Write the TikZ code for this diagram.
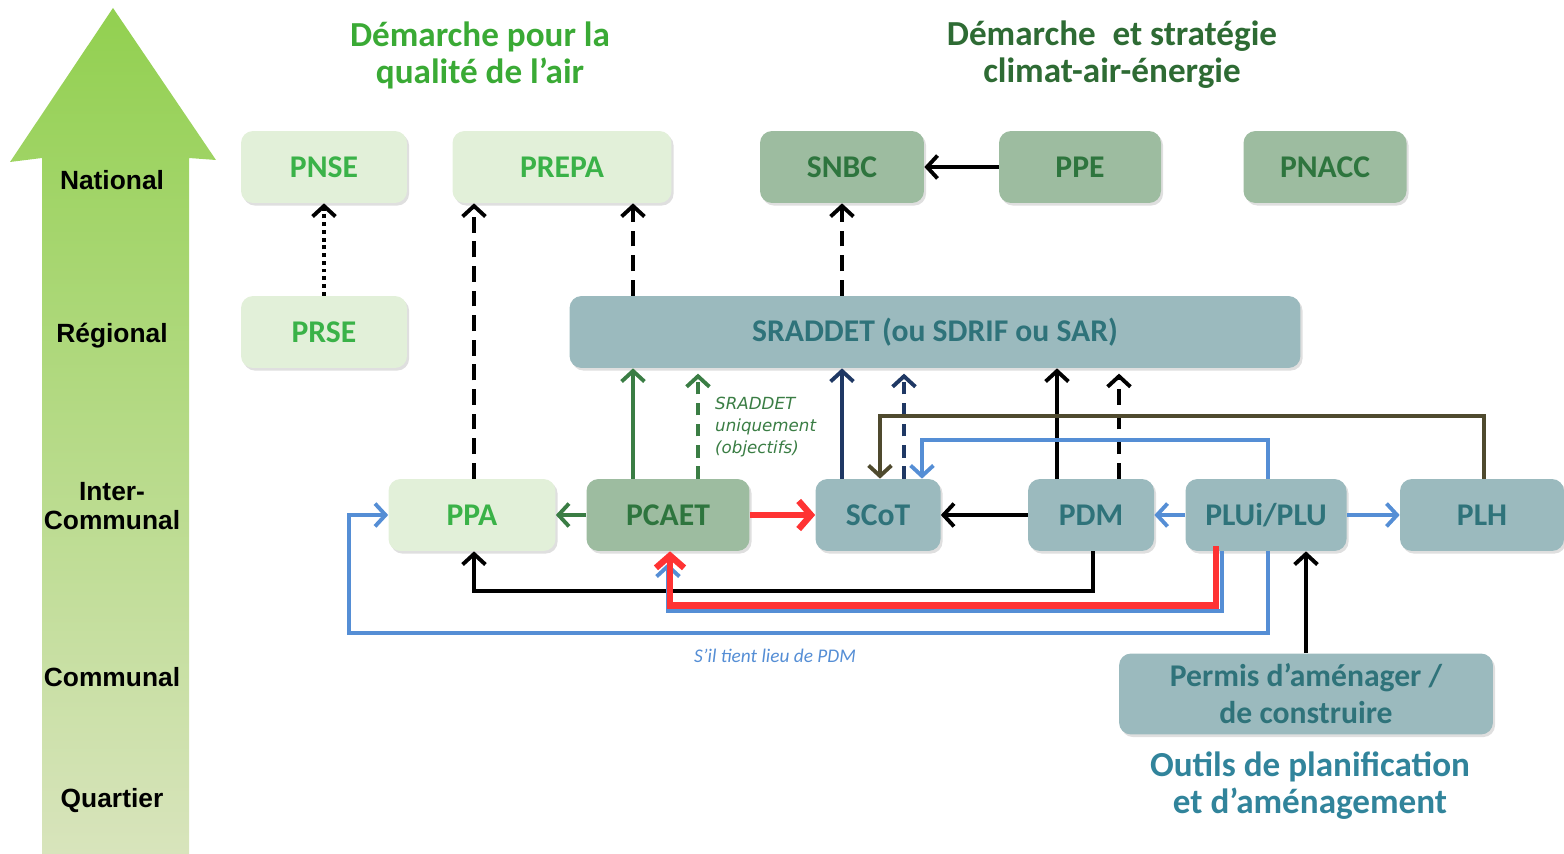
\documentclass[tikz,border=0pt]{standalone}
\usepackage{fontspec}
\setmainfont{Carlito}
\newfontfamily\arialf{Liberation Sans}
\newfontfamily\dejavuf{DejaVu Sans}
\usetikzlibrary{arrows.meta,calc,shadows}

\definecolor{vertclair}{RGB}{226,240,217}
\definecolor{verttexte}{RGB}{58,178,72}
\definecolor{vertmoyen}{RGB}{157,188,160}
\definecolor{vertfonce}{RGB}{46,117,62}
\definecolor{sarcelle}{RGB}{155,186,190}
\definecolor{sarcelletexte}{RGB}{47,115,122}
\definecolor{titrevert}{RGB}{58,170,53}
\definecolor{titrefonce}{RGB}{46,107,52}
\definecolor{titrebleu}{RGB}{49,132,155}
\definecolor{flechevert}{RGB}{58,125,68}
\definecolor{flechemarine}{RGB}{31,56,100}
\definecolor{flechebrun}{RGB}{79,74,46}
\definecolor{flechebleu}{RGB}{85,142,213}
\definecolor{flecherouge}{RGB}{255,51,51}
\definecolor{echellehaut}{RGB}{146,208,80}
\definecolor{echellebas}{RGB}{216,228,188}

\begin{document}
\begin{tikzpicture}[x=0.02cm,y=-0.02cm,>={Straight Barb[length=6pt,width=13pt]},
  boite/.style={rounded corners=0.24cm,inner sep=0pt,minimum height=1.44cm,
    font=\fontsize{18}{21}\selectfont\bfseries,
    drop shadow={opacity=0.25,shadow xshift=1.2pt,shadow yshift=-1.5pt}},
  air/.style={boite,fill=vertclair,text=verttexte},
  climat/.style={boite,fill=vertmoyen,text=vertfonce},
  urba/.style={boite,fill=sarcelle,text=sarcelletexte},
  fleche/.style={->,line width=2.2pt},
  grosse/.style={line width=3.6pt,>={Straight Barb[length=7pt,width=16pt]}},
  tirets/.style={dash pattern=on 9pt off 5pt},
  petitstirets/.style={dash pattern=on 7pt off 5pt},
  niveau/.style={font=\arialf\fontsize{15}{17}\selectfont\bfseries,align=center},
  titre/.style={font=\fontsize{20}{21}\selectfont\bfseries,align=center}]
  \useasboundingbox (0,0) rectangle (1564,854);

  % Echelle territoriale (grande fleche a gauche)
  \shade[top color=echellehaut,bottom color=echellebas]
    (113,8) -- (216,160) -- (189,158) -- (189,854) -- (42,854) -- (42,158) -- (10,162) -- cycle;
  \node[niveau] (national) at (112,180) {National};
  \node[niveau] (regional) at (112,336) {Régional};
  \node[niveau] (intercommunal) at (112,506) {Inter-\\Communal};
  \node[niveau] (communal) at (112,677) {Communal};
  \node[niveau] (quartier) at (112,801) {Quartier};

  % Titres des colonnes
  \node[titre,text=titrevert] (titreair) at (480,55) {Démarche pour la\\qualité de l’air};
  \node[titre,text=titrefonce] (titreclimat) at (1112,55) {Démarche\hspace{.25em} et stratégie\\climat-air-énergie};
  \node[titre,text=titrebleu] (titreoutils) at (1310,786) {Outils de planification\\et d’aménagement};

  % Plans nationaux
  \node[air,minimum width=3.32cm] (pnse) at (324,167) {PNSE};
  \node[air,minimum width=4.38cm] (prepa) at (562,167) {PREPA};
  \node[climat,minimum width=3.28cm] (snbc) at (842,167) {SNBC};
  \node[climat,minimum width=3.24cm] (ppe) at (1080,167) {PPE};
  \node[climat,minimum width=3.26cm] (pnacc) at (1325,167) {PNACC};

  % Niveau regional
  \node[air,minimum width=3.32cm] (prse) at (324,332) {PRSE};
  \node[urba,minimum width=14.62cm] (sraddet) at (935,332) {SRADDET (ou SDRIF ou SAR)};

  % Niveau intercommunal
  \node[air,minimum width=3.34cm] (ppa) at (472,515) {PPA};
  \node[climat,minimum width=3.26cm] (pcaet) at (668,515) {PCAET};
  \node[urba,minimum width=2.5cm] (scot) at (878,515) {SCoT};
  \node[urba,minimum width=2.52cm] (pdm) at (1091,515) {PDM};
  \node[urba,minimum width=3.22cm] (plui) at (1266,515) {PLUi/PLU};
  \node[urba,minimum width=3.28cm] (plh) at (1482,515) {PLH};
  \node[urba,minimum width=7.48cm,minimum height=1.62cm,align=center] (permis) at (1306,694)
    {Permis d’aménager /\\de construire};

  % Liens vers le national
  \draw[fleche,dash pattern=on 2.2pt off 2.2pt] (prse.north) -- (pnse.south);
  \draw[fleche,tirets] ($(ppa.north)+(2,0)$) -- ($(prepa.south)+(-88,0)$);
  \draw[fleche,tirets] ($(sraddet.north)+(-302,0)$) -- ($(prepa.south)+(71,0)$);
  \draw[fleche,tirets] ($(sraddet.north)+(-93,0)$) -- (snbc.south);
  \draw[fleche] (ppe.west) -- (snbc.east);

  % Prise en compte / compatibilite avec le SRADDET
  \draw[fleche,flechevert] ($(pcaet.north)+(-35,0)$) -- ($(sraddet.south)+(-302,0)$);
  \draw[fleche,flechevert,petitstirets,shorten >=3pt] ($(pcaet.north)+(30,0)$) -- ($(sraddet.south)+(-237,0)$);
  \node[font=\dejavuf\itshape\fontsize{9.5}{12.5}\selectfont,text=flechevert,align=left,anchor=west]
    (noteobjectifs) at (709,427) {SRADDET\\uniquement\\(objectifs)};
  \draw[fleche,flechemarine] ($(scot.north)+(-36,0)$) -- ($(sraddet.south)+(-93,0)$);
  \draw[fleche,flechemarine,petitstirets,shorten >=3pt] ($(scot.north)+(26,0)$) -- ($(sraddet.south)+(-31,0)$);
  \draw[fleche] ($(pdm.north)+(-34,0)$) -- ($(sraddet.south)+(122,0)$);
  \draw[fleche,tirets,shorten >=3pt] ($(pdm.north)+(28,0)$) -- ($(sraddet.south)+(184,0)$);

  % Retours vers le SCoT par le haut
  \draw[fleche,flechebrun] ($(plh.north)+(2,0)$) |- ($(scot.north)+(2,-63)$) -- ($(scot.north)+(2,0)$);
  \draw[fleche,flechebleu] ($(plui.north)+(2,0)$) |- ($(scot.north)+(44,-39)$) -- ($(scot.north)+(44,0)$);

  % Liens sur la ligne intercommunale
  \draw[fleche,flechevert] (pcaet.west) -- (ppa.east);
  \draw[fleche,flecherouge,grosse] (pcaet.east) -- (scot.west);
  \draw[fleche] (pdm.west) -- (scot.east);
  \draw[fleche,flechebleu] (plui.west) -- (pdm.east);
  \draw[fleche,flechebleu] (plui.east) -- (plh.west);

  % Retours par le bas
  \draw[fleche] ($(pdm.south)+(2,0)$) |- ($(ppa.south)+(2,40)$) -- ($(ppa.south)+(2,0)$);
  \draw[fleche,flechebleu] ($(plui.south)+(-44,0)$) |- ($(pcaet.south)+(0,60)$) -- ($(pcaet.south)+(0,12)$);
  \draw[fleche,flecherouge,grosse] ($(plui.south)+(-50,-5)$) |- ($(pcaet.south)+(2,54)$) -- ($(pcaet.south)+(2,0)$);
  \draw[fleche,flechebleu] ($(plui.south)+(2,0)$) |- ($(ppa.west)+(-39,118)$) |- (ppa.west);
  \node[font=\itshape\fontsize{11}{13}\selectfont,text=flechebleu] (notepdm) at (775,656) {S’il tient lieu de PDM};

  % Autorisations d'urbanisme
  \draw[fleche] (permis.north) -- (permis.north |- plui.south);
\end{tikzpicture}
\end{document}
